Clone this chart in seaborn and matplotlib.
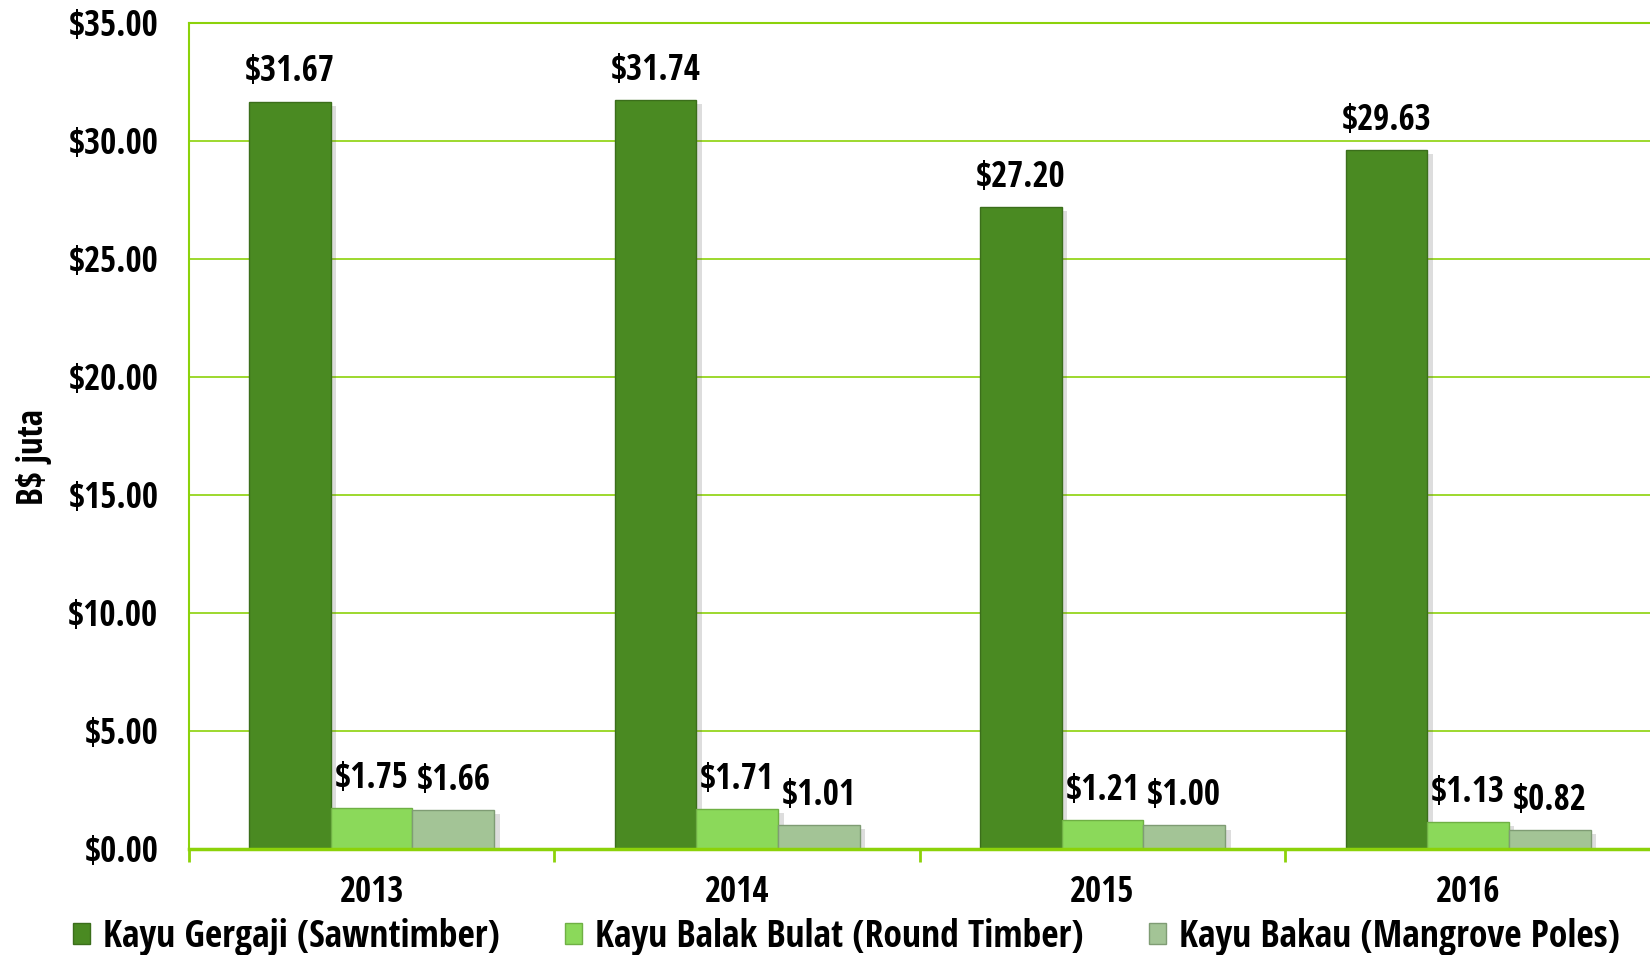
import numpy as np
import pandas as pd
import matplotlib
matplotlib.use("Agg")
import matplotlib.pyplot as plt
import matplotlib.patheffects as pe
import seaborn as sns

# data
years = ["2013", "2014", "2015", "2016"]
series = ["Kayu Gergaji (Sawntimber)",
          "Kayu Balak Bulat (Round Timber)",
          "Kayu Bakau (Mangrove Poles)"]
sawntimber = [31.67, 31.74, 27.20, 29.63]
round_timber = [1.75, 1.71, 1.21, 1.13]
mangrove = [1.66, 1.01, 1.00, 0.82]
y_ticks = [0, 5, 10, 15, 20, 25, 30, 35]

colors = ["#4A8A22", "#8BD95A", "#A3C496"]
edges = ["#3B6E1B", "#6FB044", "#7F9C74"]
green_line = "#8CD20A"

df = pd.DataFrame({
    "year": years * 3,
    "jenis": [s for s in series for _ in years],
    "nilai": sawntimber + round_timber + mangrove,
})

sns.set_theme(style="white")
plt.rcParams["font.family"] = ["Open Sans Condensed", "DejaVu Sans"]
plt.rcParams["font.weight"] = "bold"

fig = plt.figure(figsize=(16.5, 9.55), dpi=100)
ax = fig.add_axes([0.1145, 0.111, 0.886, 0.865])

sns.barplot(data=df, x="year", y="nilai", hue="jenis", order=years,
            hue_order=series, palette=colors, width=0.67, gap=0,
            saturation=1, ax=ax, legend=False)

shadow = [pe.SimplePatchShadow(offset=(4, -3), alpha=0.2, shadow_rgbFace="#555555"),
          pe.Normal()]
for cont, ec in zip(ax.containers, edges):
    for bar in cont:
        bar.set_edgecolor(ec)
        bar.set_linewidth(1.0)
        bar.set_path_effects(shadow)
    ax.bar_label(cont, labels=[f"${v:.2f}" for v in cont.datavalues],
                 padding=8, fontsize=25, fontweight="bold", color="black")

# axes
ax.set_ylim(0, 35)
ax.set_xlim(-0.5, 3.5)
ax.set_yticks(y_ticks)
ax.set_yticklabels([f"${v:.2f}" for v in y_ticks])
ax.yaxis.grid(True, color=green_line, linewidth=1.2)
ax.set_axisbelow(True)
ax.set_xticks(range(len(years)))
ax.set_xticklabels(years)
ax.set_xticks([-0.5, 0.5, 1.5, 2.5, 3.5], minor=True)
ax.tick_params(axis="x", which="major", length=0, pad=19, labelsize=25,
               labelcolor="black")
ax.tick_params(axis="x", which="minor", length=9, width=2, color=green_line,
               bottom=True)
ax.tick_params(axis="y", length=0, pad=22, labelsize=25, labelcolor="black")
for t in ax.get_xticklabels() + ax.get_yticklabels():
    t.set_fontweight("bold")

for side in ["left", "top"]:
    ax.spines[side].set_color(green_line)
    ax.spines[side].set_linewidth(1.5)
ax.spines["bottom"].set_color(green_line)
ax.spines["bottom"].set_linewidth(2.5)
ax.spines["right"].set_visible(False)

ax.set_xlabel("")
ax.set_ylabel("B$ juta", fontsize=25, fontweight="bold", color="black")
ax.yaxis.set_label_coords(-0.094, 0.475)

# legend
handles = [plt.Rectangle((0, 0), 1, 1, facecolor=c, edgecolor=e, linewidth=1)
           for c, e in zip(colors, edges)]
leg = fig.legend(handles, series, loc="center", bbox_to_anchor=(0.513, 0.019),
                 ncol=3, frameon=False, prop={"size": 27, "weight": "bold"},
                 handlelength=0.45, handleheight=0.45, handletextpad=0.35,
                 columnspacing=1.75, borderpad=0)
for t in leg.get_texts():
    t.set_color("black")

fig.savefig("out.png", dpi=100)
